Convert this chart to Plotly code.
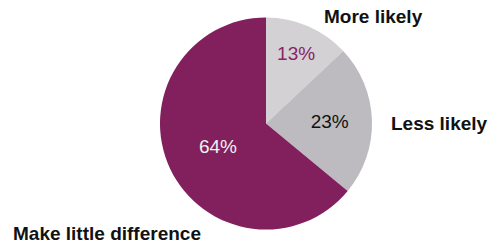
import plotly.graph_objects as go

categories = ["More likely", "Less likely", "Make little difference"]
values = [13, 23, 64]
slice_colors = ["#d3d1d4", "#bdbbbf", "#82205e"]
text_colors = ["#8a2466", "#111111", "#f0f0f0"]

fig = go.Figure(go.Pie(
    labels=categories,
    values=values,
    sort=False,
    direction="clockwise",
    rotation=0,
    marker=dict(colors=slice_colors, line=dict(width=0)),
    texttemplate="%{value}%",
    textposition="inside",
    insidetextorientation="horizontal",
    textfont=dict(family="Liberation Sans, Arial, sans-serif", size=19, color=text_colors),
    domain=dict(x=[160/498, 372/498], y=[14/245, 229/245]),
    showlegend=False,
    hoverinfo="label+percent",
))

lab = dict(family="Liberation Sans, Arial, sans-serif", size=19, color="#111111")
fig.add_annotation(text="<b>More likely</b>", x=322/498, y=1-17/245, xref="paper", yref="paper",
                   xanchor="left", yanchor="middle", showarrow=False, font=lab)
fig.add_annotation(text="<b>Less likely</b>", x=389/498, y=1-123/245, xref="paper", yref="paper",
                   xanchor="left", yanchor="middle", showarrow=False, font=lab)
fig.add_annotation(text="<b>Make little difference</b>", x=11/498, y=1-233/245, xref="paper", yref="paper",
                   xanchor="left", yanchor="middle", showarrow=False, font=lab)

fig.update_layout(
    width=498, height=245,
    margin=dict(l=0, r=0, t=0, b=0),
    paper_bgcolor="white", plot_bgcolor="white",
    uniformtext=dict(minsize=10, mode="show"),
)
fig.write_html("out.html", config={"displayModeBar": False},
               post_script="document.body.style.margin='0';document.body.style.overflow='hidden';")
